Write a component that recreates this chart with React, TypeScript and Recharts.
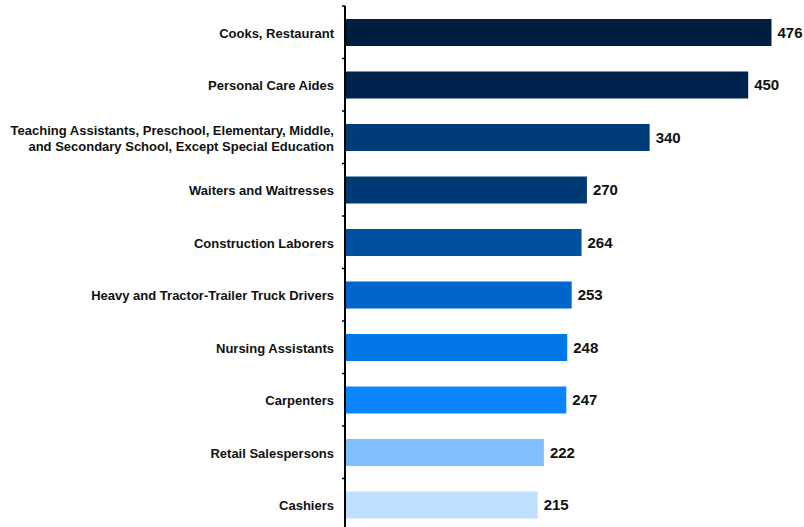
import { BarChart, Bar, XAxis, YAxis, Cell, LabelList } from "recharts"

const occupations = [
  "Cooks, Restaurant",
  "Personal Care Aides",
  "Teaching Assistants, Preschool, Elementary, Middle,\nand Secondary School, Except Special Education",
  "Waiters and Waitresses",
  "Construction Laborers",
  "Heavy and Tractor-Trailer Truck Drivers",
  "Nursing Assistants",
  "Carpenters",
  "Retail Salespersons",
  "Cashiers",
]

const openings = [476, 450, 340, 270, 264, 253, 248, 247, 222, 215]

const barColors = [
  "#001f3f",
  "#00234d",
  "#003c78",
  "#003a75",
  "#0050a0",
  "#0066cc",
  "#0078e8",
  "#0a84ff",
  "#80bfff",
  "#bfdfff",
]

const chartData = occupations.map((name, i) => ({ name, value: openings[i], color: barColors[i] }))

const WIDTH = 804
const HEIGHT = 531
const TOP = 6
const FONT = "'Liberation Sans', Arial, sans-serif"
const band = (HEIGHT - TOP) / occupations.length

// category label plus the little boundary ticks on the left of the axis
function CategoryTick({ x, y, payload, index }: { x: number; y: number; payload: { value: string }; index: number }) {
  const lines = String(payload.value).split("\n")
  const lineHeight = 16
  const startY = y - ((lines.length - 1) * lineHeight) / 2
  return (
    <g>
      <line x1={x - 3} x2={x} y1={y - band / 2} y2={y - band / 2} stroke="#000" strokeWidth={1.5} />
      {index === occupations.length - 1 && (
        <line x1={x - 3} x2={x} y1={y + band / 2} y2={y + band / 2} stroke="#000" strokeWidth={1.5} />
      )}
      <text x={x - 11} y={startY} textAnchor="end" fontFamily={FONT} fontSize={13} fontWeight="bold" fill="#111">
        {lines.map((line, i) => (
          <tspan key={i} x={x - 11} dy={i === 0 ? 5.5 : lineHeight}>
            {line}
          </tspan>
        ))}
      </text>
    </g>
  )
}

export default function App() {
  return (
    <div style={{ position: "absolute", top: 0, left: 0, width: WIDTH, height: 527, overflow: "hidden", background: "#fff" }}>
      <BarChart
        width={WIDTH}
        height={HEIGHT}
        data={chartData}
        layout="vertical"
        margin={{ top: TOP, right: 11, bottom: 0, left: 0 }}
        barCategoryGap={0}
      >
        <XAxis type="number" domain={[0, 500]} hide />
        <YAxis
          type="category"
          dataKey="name"
          width={345}
          axisLine={{ stroke: "#000", strokeWidth: 2 }}
          tickLine={false}
          tickSize={0}
          tickMargin={0}
          interval={0}
          tick={(props: any) => <CategoryTick {...props} />}
        />
        <Bar dataKey="value" barSize={27} isAnimationActive={false}>
          {chartData.map((d, i) => (
            <Cell key={i} fill={d.color} />
          ))}
          <LabelList
            dataKey="value"
            position="right"
            offset={6}
            style={{ fontFamily: FONT, fontSize: 15, fontWeight: "bold", fill: "#111" }}
          />
        </Bar>
      </BarChart>
    </div>
  )
}
